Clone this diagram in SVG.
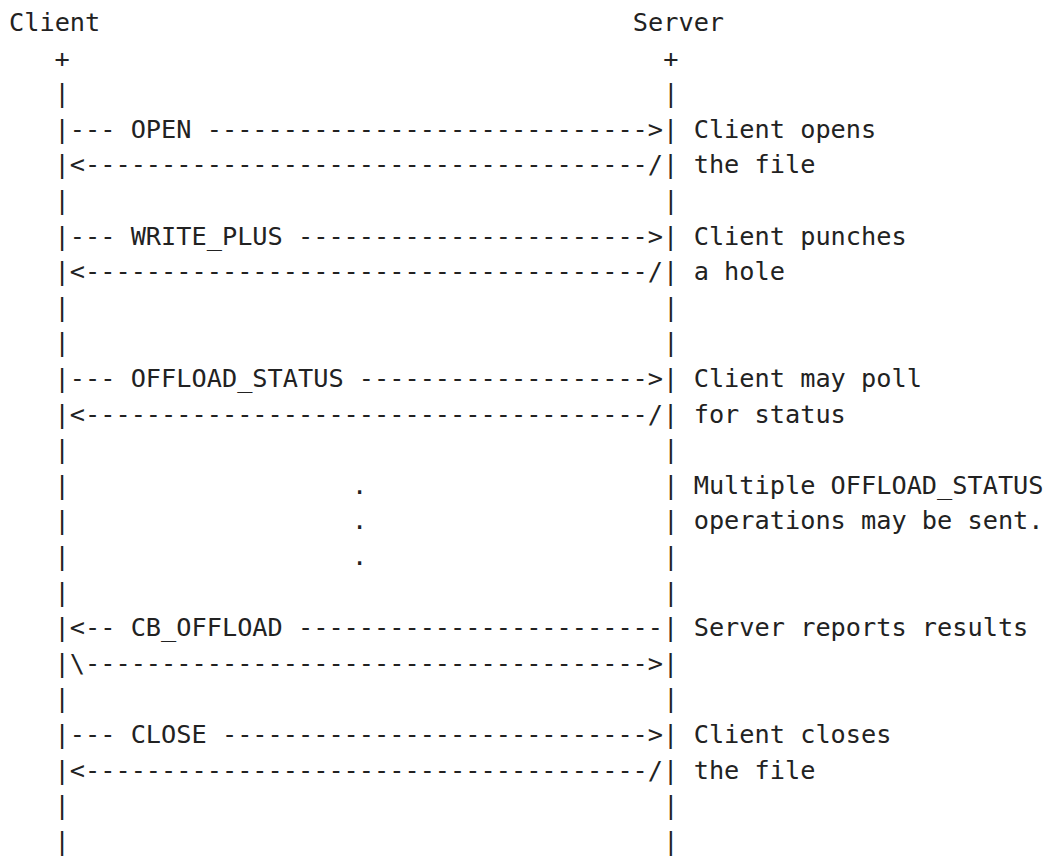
<svg xmlns="http://www.w3.org/2000/svg" width="1057" height="857" viewBox="0 0 1057 857" xml:space="preserve">
<style>
text { font-family: "DejaVu Sans Mono", "Liberation Mono", monospace; font-size: 25.27px; fill: #222222; white-space: pre; }
.mid { text-anchor: middle; }
</style>
<rect x="0" y="0" width="1057" height="857" fill="#ffffff"/>
<g id="client">
<text x="9" y="31">Client</text>
<text x="54.6" y="66.6">+</text>
<text x="54.6" y="102.2">|</text>
<text x="54.6" y="209">|</text>
<text x="54.6" y="315.8">|</text>
<text x="54.6" y="351.4">|</text>
<text x="54.6" y="458.2">|</text>
<text x="54.6" y="493.8">|</text>
<text x="54.6" y="529.4">|</text>
<text x="54.6" y="565">|</text>
<text x="54.6" y="600.6">|</text>
<text x="54.6" y="707.4">|</text>
<text x="54.6" y="814.2">|</text>
<text x="54.6" y="849.8">|</text>
</g>
<g id="server">
<text x="632.8" y="31">Server</text>
<text x="663.2" y="66.6">+</text>
<text x="663.2" y="102.2">|</text>
<text x="663.2" y="209">|</text>
<text x="663.2" y="315.8">|</text>
<text x="663.2" y="351.4">|</text>
<text x="663.2" y="458.2">|</text>
<text x="663.2" y="493.8">|</text>
<text x="663.2" y="529.4">|</text>
<text x="663.2" y="565">|</text>
<text x="663.2" y="600.6">|</text>
<text x="663.2" y="707.4">|</text>
<text x="663.2" y="814.2">|</text>
<text x="663.2" y="849.8">|</text>
</g>
<g id="connectors">
<text x="54.6" y="137.8">|--- OPEN ----------------------------->|</text>
<text x="54.6" y="173.4">|&lt;-------------------------------------/|</text>
<text x="54.6" y="244.6">|--- WRITE_PLUS ----------------------->|</text>
<text x="54.6" y="280.2">|&lt;-------------------------------------/|</text>
<text x="54.6" y="387">|--- OFFLOAD_STATUS ------------------->|</text>
<text x="54.6" y="422.6">|&lt;-------------------------------------/|</text>
<text x="54.6" y="636.2">|&lt;-- CB_OFFLOAD ------------------------|</text>
<text x="54.6" y="671.8">|\-------------------------------------&gt;|</text>
<text x="54.6" y="743">|--- CLOSE ---------------------------->|</text>
<text x="54.6" y="778.6">|&lt;-------------------------------------/|</text>
</g>
<g id="ellipsis">
<text class="mid" x="359.7" y="493.8">.</text>
<text class="mid" x="359.7" y="529.4">.</text>
<text class="mid" x="359.7" y="565">.</text>
</g>
<g id="notes">
<text x="693.7" y="137.8">Client opens</text>
<text x="693.7" y="173.4">the file</text>
<text x="693.7" y="244.6">Client punches</text>
<text x="693.7" y="280.2">a hole</text>
<text x="693.7" y="387">Client may poll</text>
<text x="693.7" y="422.6">for status</text>
<text x="693.7" y="493.8">Multiple OFFLOAD_STATUS</text>
<text x="693.7" y="529.4">operations may be sent.</text>
<text x="693.7" y="636.2">Server reports results</text>
<text x="693.7" y="743">Client closes</text>
<text x="693.7" y="778.6">the file</text>
</g>
</svg>
